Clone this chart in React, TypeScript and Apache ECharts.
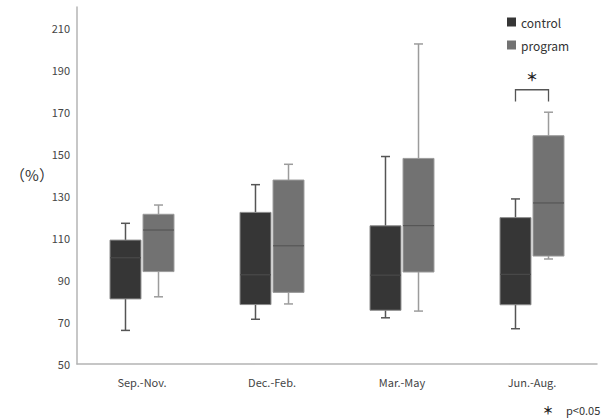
import React, { useEffect, useRef } from "react";
import * as echarts from "echarts";

const categories = ["Sep.-Nov.", "Dec.-Feb.", "Mar.-May", "Jun.-Aug."];
// [lower whisker, Q1, median, Q3, upper whisker]
const controlStats = [
  [66, 81, 100.6, 109, 117],
  [71.3, 78.3, 92.5, 122.2, 135.4],
  [72, 75.6, 92.3, 115.8, 148.8],
  [66.8, 78.2, 92.7, 119.7, 128.6],
];
const programStats = [
  [82, 94, 113.8, 121.3, 125.7],
  [78.6, 84.1, 106.3, 137.6, 145.1],
  [75.2, 93.8, 115.9, 147.9, 202.4],
  [100, 101.4, 126.7, 158.7, 169.9],
];
const yTickLabels = [50, 70, 90, 110, 130, 150, 170, 190, 210];
// [category index, bracket top, bracket leg end]
const significance = [[3, 180.6, 175]];
const seriesNames = ["control", "program"];

const FONT = "'Noto Sans CJK JP', 'Noto Sans', sans-serif";

function makeBoxRender(side: number, st: any) {
  return (params: any, api: any) => {
    const idx = api.value(0);
    const bw = api.size([1, 0])[0];
    const cx = api.coord([idx, 0])[0] + side * bw * 0.127;
    const half = bw * 0.119;
    const cap = 4.5;
    const y = (i: number) => api.coord([idx, api.value(i)])[1];
    const yLow = y(1), yQ1 = y(2), yMed = y(3), yQ3 = y(4), yHigh = y(5);
    const wStyle = { stroke: st.whisker, lineWidth: 1.5 };
    return {
      type: "group",
      children: [
        { type: "line", shape: { x1: cx, y1: yHigh, x2: cx, y2: yQ3 }, style: wStyle },
        { type: "line", shape: { x1: cx - cap, y1: yHigh, x2: cx + cap, y2: yHigh }, style: wStyle },
        { type: "line", shape: { x1: cx, y1: yLow, x2: cx, y2: yQ1 }, style: wStyle },
        { type: "line", shape: { x1: cx - cap, y1: yLow, x2: cx + cap, y2: yLow }, style: wStyle },
        {
          type: "rect",
          shape: { x: cx - half, y: yQ3, width: half * 2, height: yQ1 - yQ3 },
          style: { fill: st.fill, stroke: st.border, lineWidth: 1 },
        },
        {
          type: "line",
          shape: { x1: cx - half, y1: yMed, x2: cx + half, y2: yMed },
          style: { stroke: st.median, lineWidth: 1.2 },
        },
      ],
    };
  };
}

export default function App() {
  const ref = useRef<HTMLDivElement>(null);
  useEffect(() => {
    if (!ref.current) return;
    const chart = echarts.init(ref.current, undefined, { renderer: "svg" });
    const styles = [
      { fill: "#363636", border: "#8a8a8a", median: "#4a4a4a", whisker: "#555555" },
      { fill: "#727272", border: "#9a9a9a", median: "#565656", whisker: "#9c9c9c" },
    ];
    const stats = [controlStats, programStats];
    const option: any = {
      animation: false,
      textStyle: { fontFamily: FONT },
      grid: { left: 77, right: 15, top: 7, bottom: 56, containLabel: false },
      legend: {
        data: seriesNames,
        orient: "vertical",
        left: 502,
        top: 11,
        itemWidth: 9,
        itemHeight: 9,
        itemGap: 11,
        icon: "rect",
        textStyle: { fontSize: 12, color: "#333", fontFamily: FONT },
      },
      xAxis: {
        type: "category",
        data: categories,
        axisTick: { show: false },
        axisLine: { lineStyle: { color: "#b4b4b4", width: 1.5 } },
        axisLabel: { fontSize: 11, color: "#444", margin: 12, fontFamily: FONT },
      },
      yAxis: {
        type: "value",
        min: 50,
        max: 220,
        interval: 10,
        splitLine: { show: false },
        axisTick: { show: false },
        axisLine: { show: true, lineStyle: { color: "#b4b4b4", width: 1.5 } },
        axisLabel: {
          fontSize: 11,
          color: "#444",
          margin: 7,
          fontFamily: FONT,
          formatter: (v: number) => (yTickLabels.includes(v) ? String(v) : ""),
        },
      },
      series: [
        ...seriesNames.map((name, k) => ({
          type: "custom",
          name,
          itemStyle: { color: styles[k].fill },
          encode: { x: 0, y: [1, 2, 3, 4, 5] },
          data: stats[k].map((s, i) => [i, ...s]),
          renderItem: makeBoxRender(k === 0 ? -1 : 1, styles[k]),
        })),
        {
          type: "custom",
          name: "sig",
          encode: { x: 0, y: [1, 2] },
          data: significance,
          renderItem: (params: any, api: any) => {
            const idx = api.value(0);
            const bw = api.size([1, 0])[0];
            const c = api.coord([idx, api.value(1)]);
            const yLeg = api.coord([idx, api.value(2)])[1];
            const dx = bw * 0.127;
            return {
              type: "group",
              children: [
                {
                  type: "polyline",
                  shape: {
                    points: [
                      [c[0] - dx, yLeg],
                      [c[0] - dx, c[1]],
                      [c[0] + dx, c[1]],
                      [c[0] + dx, yLeg],
                    ],
                  },
                  style: { stroke: "#555", lineWidth: 1.3, fill: "none" },
                },
                {
                  type: "text",
                  x: c[0],
                  y: c[1] - 13,
                  style: {
                    text: "＊",
                    fontSize: 12,
                    fontWeight: "bold",
                    fontFamily: FONT,
                    fill: "#222",
                    align: "center",
                    verticalAlign: "middle",
                  },
                },
              ],
            };
          },
        },
      ],
      graphic: [
        {
          type: "text",
          x: 32,
          y: 174,
          style: {
            text: "（%）",
            fontSize: 15,
            fontFamily: FONT,
            fill: "#333",
            align: "center",
            verticalAlign: "middle",
          },
        },
        {
          type: "text",
          x: 548,
          y: 410,
          style: {
            text: "＊",
            fontSize: 11,
            fontWeight: "bold",
            fontFamily: FONT,
            fill: "#222",
            align: "center",
            verticalAlign: "middle",
          },
        },
        {
          type: "text",
          x: 566,
          y: 410,
          style: {
            text: "p<0.05",
            fontSize: 11,
            fontFamily: FONT,
            fill: "#333",
            align: "left",
            verticalAlign: "middle",
          },
        },
      ],
    };
    chart.setOption(option);
    return () => chart.dispose();
  }, []);
  return (
    <div
      ref={ref}
      style={{ position: "fixed", left: 0, top: 0, width: 612, height: 420, background: "#fff" }}
    />
  );
}
